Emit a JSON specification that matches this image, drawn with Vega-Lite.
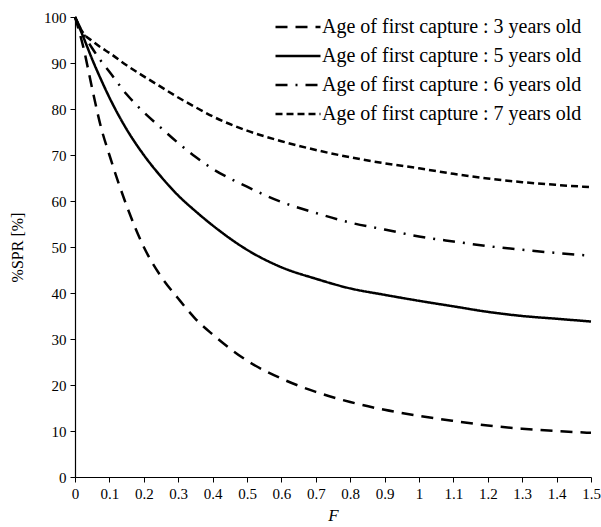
{
  "$schema": "https://vega.github.io/schema/vega-lite/v6.json",
  "autosize": {"type": "none"},
  "padding": {"left": 75, "top": 17, "right": 10, "bottom": 50},
  "width": 516,
  "height": 460,
  "background": "white",
  "config": {
    "font": "Liberation Serif",
    "view": {"stroke": null},
    "axis": {"grid": false, "domainColor": "black", "tickColor": "black", "labelColor": "black", "titleColor": "black", "labelFont": "Liberation Serif", "titleFont": "Liberation Serif", "labelFontSize": 15, "titleFontSize": 16, "titleFontWeight": "normal", "tickSize": 5, "domainWidth": 1.2, "tickWidth": 1}
  },
  "data": {"values": [
    {"F":0,"SPR":100,"age":"Age of first capture : 3 years old"},
    {"F":0.025,"SPR":93.2,"age":"Age of first capture : 3 years old"},
    {"F":0.05,"SPR":84.4,"age":"Age of first capture : 3 years old"},
    {"F":0.075,"SPR":76.2,"age":"Age of first capture : 3 years old"},
    {"F":0.1,"SPR":70,"age":"Age of first capture : 3 years old"},
    {"F":0.15,"SPR":59,"age":"Age of first capture : 3 years old"},
    {"F":0.2,"SPR":50,"age":"Age of first capture : 3 years old"},
    {"F":0.25,"SPR":43.6,"age":"Age of first capture : 3 years old"},
    {"F":0.3,"SPR":38.8,"age":"Age of first capture : 3 years old"},
    {"F":0.35,"SPR":34.4,"age":"Age of first capture : 3 years old"},
    {"F":0.4,"SPR":31,"age":"Age of first capture : 3 years old"},
    {"F":0.5,"SPR":25.3,"age":"Age of first capture : 3 years old"},
    {"F":0.6,"SPR":21.4,"age":"Age of first capture : 3 years old"},
    {"F":0.7,"SPR":18.5,"age":"Age of first capture : 3 years old"},
    {"F":0.8,"SPR":16.3,"age":"Age of first capture : 3 years old"},
    {"F":0.9,"SPR":14.6,"age":"Age of first capture : 3 years old"},
    {"F":1.0,"SPR":13.3,"age":"Age of first capture : 3 years old"},
    {"F":1.1,"SPR":12.2,"age":"Age of first capture : 3 years old"},
    {"F":1.2,"SPR":11.2,"age":"Age of first capture : 3 years old"},
    {"F":1.3,"SPR":10.5,"age":"Age of first capture : 3 years old"},
    {"F":1.4,"SPR":10.0,"age":"Age of first capture : 3 years old"},
    {"F":1.5,"SPR":9.6,"age":"Age of first capture : 3 years old"},

    {"F":0,"SPR":100,"age":"Age of first capture : 5 years old"},
    {"F":0.025,"SPR":95.5,"age":"Age of first capture : 5 years old"},
    {"F":0.05,"SPR":90.8,"age":"Age of first capture : 5 years old"},
    {"F":0.075,"SPR":86.5,"age":"Age of first capture : 5 years old"},
    {"F":0.1,"SPR":82.5,"age":"Age of first capture : 5 years old"},
    {"F":0.15,"SPR":75.6,"age":"Age of first capture : 5 years old"},
    {"F":0.2,"SPR":70,"age":"Age of first capture : 5 years old"},
    {"F":0.25,"SPR":65.3,"age":"Age of first capture : 5 years old"},
    {"F":0.3,"SPR":61.2,"age":"Age of first capture : 5 years old"},
    {"F":0.35,"SPR":57.8,"age":"Age of first capture : 5 years old"},
    {"F":0.4,"SPR":54.7,"age":"Age of first capture : 5 years old"},
    {"F":0.5,"SPR":49.4,"age":"Age of first capture : 5 years old"},
    {"F":0.6,"SPR":45.6,"age":"Age of first capture : 5 years old"},
    {"F":0.7,"SPR":43.1,"age":"Age of first capture : 5 years old"},
    {"F":0.8,"SPR":41.0,"age":"Age of first capture : 5 years old"},
    {"F":0.9,"SPR":39.6,"age":"Age of first capture : 5 years old"},
    {"F":1.0,"SPR":38.3,"age":"Age of first capture : 5 years old"},
    {"F":1.1,"SPR":37.1,"age":"Age of first capture : 5 years old"},
    {"F":1.2,"SPR":35.9,"age":"Age of first capture : 5 years old"},
    {"F":1.3,"SPR":35.0,"age":"Age of first capture : 5 years old"},
    {"F":1.4,"SPR":34.4,"age":"Age of first capture : 5 years old"},
    {"F":1.5,"SPR":33.8,"age":"Age of first capture : 5 years old"},

    {"F":0,"SPR":100,"age":"Age of first capture : 6 years old"},
    {"F":0.025,"SPR":96.3,"age":"Age of first capture : 6 years old"},
    {"F":0.05,"SPR":93.2,"age":"Age of first capture : 6 years old"},
    {"F":0.075,"SPR":90.5,"age":"Age of first capture : 6 years old"},
    {"F":0.1,"SPR":88.1,"age":"Age of first capture : 6 years old"},
    {"F":0.15,"SPR":83.2,"age":"Age of first capture : 6 years old"},
    {"F":0.2,"SPR":79.3,"age":"Age of first capture : 6 years old"},
    {"F":0.25,"SPR":75.9,"age":"Age of first capture : 6 years old"},
    {"F":0.3,"SPR":72.6,"age":"Age of first capture : 6 years old"},
    {"F":0.35,"SPR":69.6,"age":"Age of first capture : 6 years old"},
    {"F":0.4,"SPR":67.0,"age":"Age of first capture : 6 years old"},
    {"F":0.5,"SPR":63.1,"age":"Age of first capture : 6 years old"},
    {"F":0.6,"SPR":59.8,"age":"Age of first capture : 6 years old"},
    {"F":0.7,"SPR":57.4,"age":"Age of first capture : 6 years old"},
    {"F":0.8,"SPR":55.3,"age":"Age of first capture : 6 years old"},
    {"F":0.9,"SPR":53.8,"age":"Age of first capture : 6 years old"},
    {"F":1.0,"SPR":52.3,"age":"Age of first capture : 6 years old"},
    {"F":1.1,"SPR":51.2,"age":"Age of first capture : 6 years old"},
    {"F":1.2,"SPR":50.2,"age":"Age of first capture : 6 years old"},
    {"F":1.3,"SPR":49.4,"age":"Age of first capture : 6 years old"},
    {"F":1.4,"SPR":48.7,"age":"Age of first capture : 6 years old"},
    {"F":1.5,"SPR":48.1,"age":"Age of first capture : 6 years old"},

    {"F":0,"SPR":100,"age":"Age of first capture : 7 years old"},
    {"F":0.025,"SPR":96.4,"age":"Age of first capture : 7 years old"},
    {"F":0.05,"SPR":94.8,"age":"Age of first capture : 7 years old"},
    {"F":0.075,"SPR":93.4,"age":"Age of first capture : 7 years old"},
    {"F":0.1,"SPR":92.2,"age":"Age of first capture : 7 years old"},
    {"F":0.15,"SPR":89.5,"age":"Age of first capture : 7 years old"},
    {"F":0.2,"SPR":87.1,"age":"Age of first capture : 7 years old"},
    {"F":0.25,"SPR":84.8,"age":"Age of first capture : 7 years old"},
    {"F":0.3,"SPR":82.5,"age":"Age of first capture : 7 years old"},
    {"F":0.35,"SPR":80.4,"age":"Age of first capture : 7 years old"},
    {"F":0.4,"SPR":78.4,"age":"Age of first capture : 7 years old"},
    {"F":0.5,"SPR":75.3,"age":"Age of first capture : 7 years old"},
    {"F":0.6,"SPR":73.0,"age":"Age of first capture : 7 years old"},
    {"F":0.7,"SPR":71.1,"age":"Age of first capture : 7 years old"},
    {"F":0.8,"SPR":69.5,"age":"Age of first capture : 7 years old"},
    {"F":0.9,"SPR":68.2,"age":"Age of first capture : 7 years old"},
    {"F":1.0,"SPR":67.1,"age":"Age of first capture : 7 years old"},
    {"F":1.1,"SPR":65.9,"age":"Age of first capture : 7 years old"},
    {"F":1.2,"SPR":64.9,"age":"Age of first capture : 7 years old"},
    {"F":1.3,"SPR":64.1,"age":"Age of first capture : 7 years old"},
    {"F":1.4,"SPR":63.5,"age":"Age of first capture : 7 years old"},
    {"F":1.5,"SPR":63.0,"age":"Age of first capture : 7 years old"}
  ]},
  "mark": {"type": "line", "interpolate": "monotone", "color": "black", "strokeWidth": 2.5},
  "encoding": {
    "x": {
      "field": "F", "type": "quantitative",
      "scale": {"domain": [0, 1.5], "nice": false},
      "axis": {"values": [0,0.1,0.2,0.3,0.4,0.5,0.6,0.7,0.8,0.9,1,1.1,1.2,1.3,1.4,1.5], "format": "~g", "labelPadding": 4, "title": "F", "titleFontStyle": "italic", "titleFontSize": 17, "titlePadding": 6, "labelOverlap": false, "labelFlush": false}
    },
    "y": {
      "field": "SPR", "type": "quantitative",
      "scale": {"domain": [0, 100], "nice": false},
      "axis": {"values": [0,10,20,30,40,50,60,70,80,90,100], "title": "%SPR [%]", "titleX": -58, "titleY": 230, "titleAngle": -90, "titleAlign": "center", "titleBaseline": "middle", "labelPadding": 4}
    },
    "strokeDash": {
      "field": "age", "type": "nominal",
      "scale": {
        "domain": ["Age of first capture : 3 years old", "Age of first capture : 5 years old", "Age of first capture : 6 years old", "Age of first capture : 7 years old"],
        "range": [[12, 8], [1, 0], [12, 8, 2, 8], [7, 4]]
      },
      "legend": {
        "title": null, "orient": "none", "legendX": 213, "legendY": 0,
        "symbolType": "M-3,0H3", "symbolSize": 225, "symbolStrokeWidth": 2.5, "symbolStrokeColor": "black", "symbolFillColor": "transparent",
        "labelFont": "Liberation Serif", "labelFontSize": 20, "labelColor": "black", "labelLimit": 400, "labelOffset": 14,
        "rowPadding": 9, "padding": 0
      }
    }
  }
}
